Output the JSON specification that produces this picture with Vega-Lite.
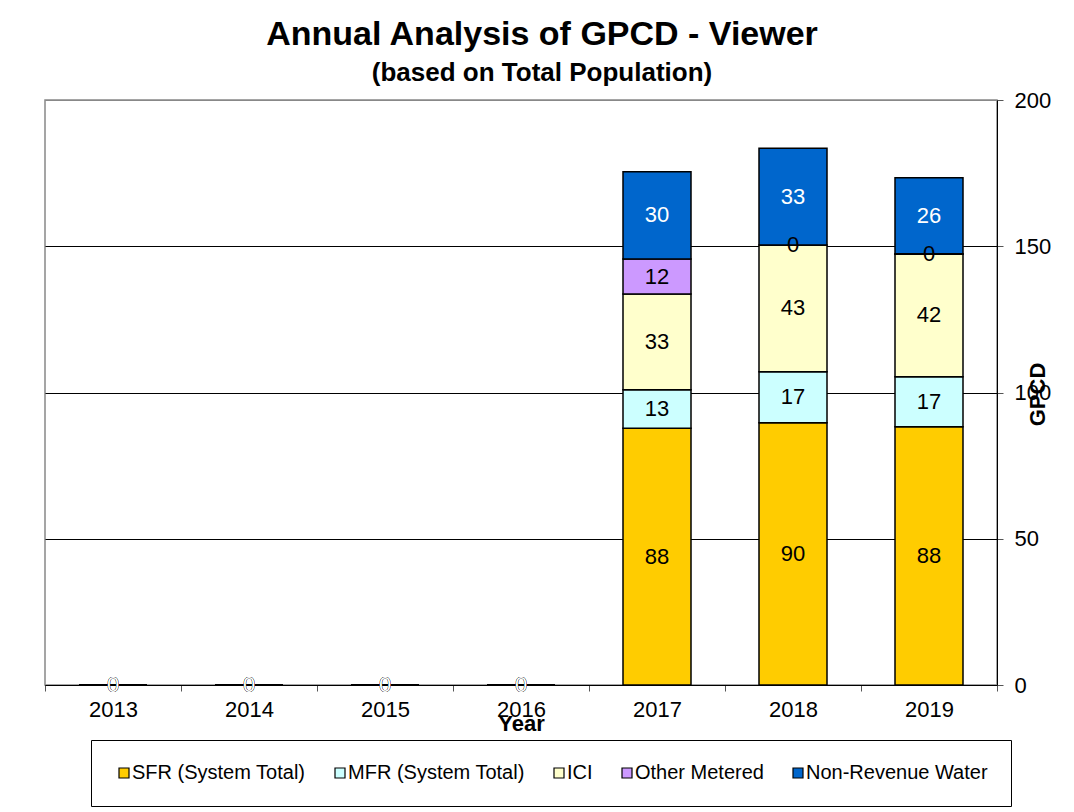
{
  "$schema": "https://vega.github.io/schema/vega-lite/v6.json",
  "autosize": {"type": "none"},
  "padding": {"left": 45, "top": 100, "right": 77, "bottom": 127},
  "width": 952,
  "height": 585,
  "background": "white",
  "title": {
    "text": "Annual Analysis of GPCD - Viewer",
    "subtitle": "(based on Total Population)",
    "anchor": "middle",
    "dx": 21,
    "offset": 3,
    "font": "Liberation Sans",
    "fontSize": 34,
    "fontWeight": "bold",
    "color": "black",
    "subtitleFont": "Liberation Sans",
    "subtitleFontSize": 26,
    "subtitleFontWeight": "bold",
    "subtitleColor": "black",
    "subtitlePadding": 8
  },
  "data": {
    "values": [
      {"year": "2013", "series": "SFR (System Total)", "ord": 1, "value": 0},
      {"year": "2013", "series": "MFR (System Total)", "ord": 2, "value": 0},
      {"year": "2013", "series": "ICI", "ord": 3, "value": 0},
      {"year": "2013", "series": "Other Metered", "ord": 4, "value": 0},
      {"year": "2013", "series": "Non-Revenue Water", "ord": 5, "value": 0},
      {"year": "2014", "series": "SFR (System Total)", "ord": 1, "value": 0},
      {"year": "2014", "series": "MFR (System Total)", "ord": 2, "value": 0},
      {"year": "2014", "series": "ICI", "ord": 3, "value": 0},
      {"year": "2014", "series": "Other Metered", "ord": 4, "value": 0},
      {"year": "2014", "series": "Non-Revenue Water", "ord": 5, "value": 0},
      {"year": "2015", "series": "SFR (System Total)", "ord": 1, "value": 0},
      {"year": "2015", "series": "MFR (System Total)", "ord": 2, "value": 0},
      {"year": "2015", "series": "ICI", "ord": 3, "value": 0},
      {"year": "2015", "series": "Other Metered", "ord": 4, "value": 0},
      {"year": "2015", "series": "Non-Revenue Water", "ord": 5, "value": 0},
      {"year": "2016", "series": "SFR (System Total)", "ord": 1, "value": 0},
      {"year": "2016", "series": "MFR (System Total)", "ord": 2, "value": 0},
      {"year": "2016", "series": "ICI", "ord": 3, "value": 0},
      {"year": "2016", "series": "Other Metered", "ord": 4, "value": 0},
      {"year": "2016", "series": "Non-Revenue Water", "ord": 5, "value": 0},
      {"year": "2017", "series": "SFR (System Total)", "ord": 1, "value": 87.8},
      {"year": "2017", "series": "MFR (System Total)", "ord": 2, "value": 13.1},
      {"year": "2017", "series": "ICI", "ord": 3, "value": 32.8},
      {"year": "2017", "series": "Other Metered", "ord": 4, "value": 11.9},
      {"year": "2017", "series": "Non-Revenue Water", "ord": 5, "value": 29.9},
      {"year": "2018", "series": "SFR (System Total)", "ord": 1, "value": 89.7},
      {"year": "2018", "series": "MFR (System Total)", "ord": 2, "value": 17.4},
      {"year": "2018", "series": "ICI", "ord": 3, "value": 43.3},
      {"year": "2018", "series": "Other Metered", "ord": 4, "value": 0},
      {"year": "2018", "series": "Non-Revenue Water", "ord": 5, "value": 33.1},
      {"year": "2019", "series": "SFR (System Total)", "ord": 1, "value": 88.3},
      {"year": "2019", "series": "MFR (System Total)", "ord": 2, "value": 17.1},
      {"year": "2019", "series": "ICI", "ord": 3, "value": 41.9},
      {"year": "2019", "series": "Other Metered", "ord": 4, "value": 0.1},
      {"year": "2019", "series": "Non-Revenue Water", "ord": 5, "value": 26.0}
    ]
  },
  "encoding": {
    "x": {
      "field": "year",
      "type": "nominal",
      "scale": {"paddingInner": 0, "paddingOuter": 0},
      "axis": {
        "title": "Year",
        "titleFont": "Liberation Sans",
        "titleFontSize": 22,
        "titleFontWeight": "bold",
        "titleColor": "black",
        "titlePadding": -7,
        "labelAngle": 0,
        "labelFont": "Liberation Sans",
        "labelFontSize": 22,
        "labelColor": "black",
        "labelPadding": 8,
        "tickBand": "extent",
        "tickSize": 6,
        "tickColor": "#555555",
        "domainColor": "black",
        "grid": false
      }
    },
    "y": {
      "aggregate": "sum",
      "field": "value",
      "type": "quantitative",
      "stack": "zero",
      "scale": {"domain": [0, 200], "nice": false}
    },
    "order": {"field": "ord", "type": "quantitative"}
  },
  "layer": [
    {
      "mark": {"type": "bar", "width": {"band": 0.5}, "stroke": "black", "strokeWidth": 1.5},
      "encoding": {
        "y": {
          "aggregate": "sum",
          "field": "value",
          "type": "quantitative",
          "stack": "zero",
          "scale": {"domain": [0, 200], "nice": false},
          "axis": {
            "orient": "right",
            "values": [0, 50, 100, 150, 200],
            "title": "GPCD",
            "titleFont": "Liberation Sans",
            "titleFontSize": 22,
            "titleFontWeight": "bold",
            "titleColor": "black",
            "titleAngle": 270,
            "titleX": 40,
            "titleY": 294,
            "titleAlign": "center",
            "titleBaseline": "middle",
            "labelFont": "Liberation Sans",
            "labelFontSize": 22,
            "labelColor": "black",
            "labelPadding": 11,
            "tickSize": 6,
            "tickColor": "#555555",
            "domainColor": "black",
            "grid": true,
            "gridColor": {"condition": {"test": "datum.value === 200", "value": "#888888"}, "value": "black"},
            "gridWidth": 1
          }
        },
        "color": {
          "field": "series",
          "type": "nominal",
          "sort": ["SFR (System Total)", "MFR (System Total)", "ICI", "Other Metered", "Non-Revenue Water"],
          "scale": {
            "domain": ["SFR (System Total)", "MFR (System Total)", "ICI", "Other Metered", "Non-Revenue Water"],
            "range": ["#FFCC00", "#CCFFFF", "#FFFFCC", "#CC99FF", "#0066CC"]
          },
          "legend": {
            "title": null,
            "orient": "none",
            "legendX": 46,
            "legendY": 640,
            "direction": "horizontal",
            "columns": 5,
            "columnPadding": 24,
            "padding": 23,
            "strokeColor": "black",
            "fillColor": "white",
            "symbolType": "square",
            "symbolSize": 100,
            "symbolStrokeColor": "black",
            "symbolStrokeWidth": 1.2,
            "symbolOpacity": 1,
            "labelFont": "Liberation Sans",
            "labelFontSize": 20,
            "labelColor": "black",
            "labelOffset": -2,
            "labelLimit": 400
          }
        }
      }
    },
    {
      "mark": {"type": "text", "font": "Liberation Sans", "fontSize": 22, "baseline": "middle", "align": "center"},
      "encoding": {
        "y": {
          "aggregate": "sum",
          "field": "value",
          "type": "quantitative",
          "stack": "zero",
          "bandPosition": 0.5
        },
        "detail": {"field": "series", "type": "nominal"},
        "text": {"aggregate": "sum", "field": "value", "type": "quantitative", "format": ".0f"},
        "color": {
          "condition": {"test": "datum.series === 'Non-Revenue Water'", "value": "white"},
          "value": "black"
        }
      }
    }
  ],
  "config": {
    "view": {"stroke": "#888888", "strokeWidth": 1.5},
    "font": "Liberation Sans"
  }
}
